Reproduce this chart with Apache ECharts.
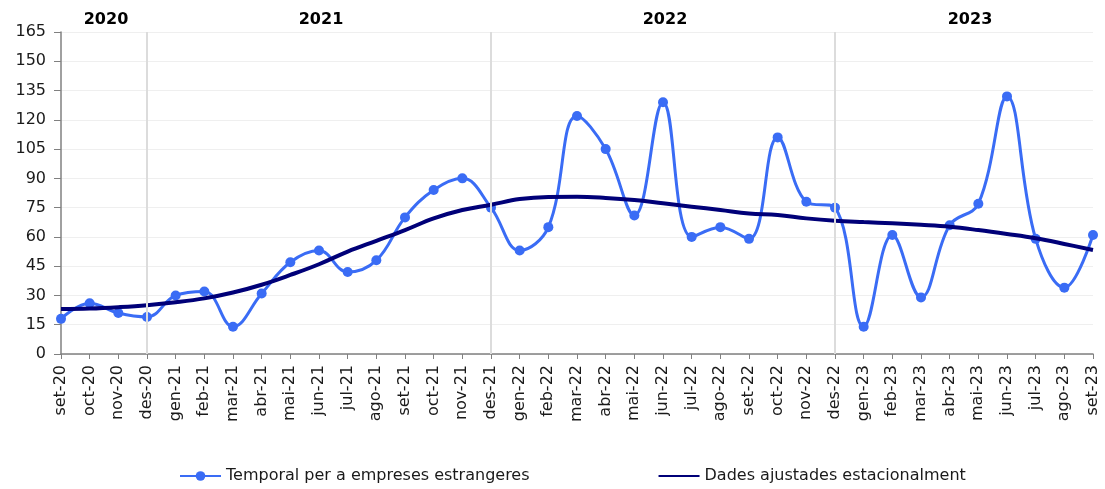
<!DOCTYPE html>
<html lang="ca">
<head>
<meta charset="UTF-8">
<title>Temporal per a empreses estrangeres</title>
<script src="https://cdn.jsdelivr.net/npm/echarts@6/dist/echarts.min.js"></script>
<style>
	html, body { margin: 0; padding: 0; background: #fff; }
	#chart { width: 1105px; height: 489px; }
</style>
</head>
<body>
<div id="chart"></div>
<script>
// categories (mesos)
var months = ['set-20','oct-20','nov-20','des-20',
	'gen-21','feb-21','mar-21','abr-21','mai-21','jun-21','jul-21','ago-21','set-21','oct-21','nov-21','des-21',
	'gen-22','feb-22','mar-22','abr-22','mai-22','jun-22','jul-22','ago-22','set-22','oct-22','nov-22','des-22',
	'gen-23','feb-23','mar-23','abr-23','mai-23','jun-23','jul-23','ago-23','set-23'];

// serie original
var temporal = [18,26,21,19,
	30,32,14,31,47,53,42,48,70,84,90,75,
	53,65,122,105,71,129,60,65,59,111,78,75,
	14,61,29,66,77,132,59,34,61];

// serie ajustada
var ajustades = [23,23.3,24,25,
	26.5,28.5,31.5,35.5,40.5,46,52.5,58,63.5,69.5,73.8,76.5,
	79.4,80.5,80.6,80,78.9,77.2,75.5,73.8,72,71.2,69.5,68.3,
	67.6,67,66.2,65.2,63.5,61.5,59.3,56.4,53.3];

// separadors d'any i etiquetes
var yearBreaks = ['des-20','des-21','des-22'];
var yearLabels = ['2020','2021','2022','2023'];

var FONT = '"DejaVu Sans", Verdana, sans-serif';
var chart = echarts.init(document.getElementById('chart'));

var option = {
	animation: false,
	textStyle: { fontFamily: FONT },
	grid: { left: 61, right: 12, top: 32, bottom: 135 },
	legend: {
		bottom: 0,
		left: 174,
		itemGap: 128,
		itemWidth: 41,
		itemHeight: 12,
		textStyle: { fontSize: 16, color: '#1a1a1a' },
		data: [
			{ name: 'Temporal per a empreses estrangeres' },
			{ name: 'Dades ajustades estacionalment', itemStyle: { opacity: 0 } }
		]
	},
	xAxis: {
		type: 'category',
		data: months,
		boundaryGap: false,
		axisLine: { lineStyle: { color: '#808080', width: 1.5 } },
		axisTick: { show: true, length: 5, lineStyle: { color: '#808080' } },
		axisLabel: { rotate: 90, fontSize: 16, color: '#1a1a1a', margin: 11 },
		splitLine: { show: false }
	},
	yAxis: {
		type: 'value',
		min: 0,
		max: 165,
		interval: 15,
		axisLine: { show: true, lineStyle: { color: '#808080', width: 1.5 } },
		axisTick: { show: true, length: 7, lineStyle: { color: '#808080' } },
		axisLabel: { fontSize: 16, color: '#1a1a1a', margin: 15 },
		splitLine: { lineStyle: { color: '#efefef', width: 1 } }
	},
	series: [
		{
			name: 'Temporal per a empreses estrangeres',
			type: 'line',
			data: temporal,
			smooth: 0.4,
			symbol: 'circle',
			symbolSize: 10,
			lineStyle: { color: '#3a6cf5', width: 3 },
			itemStyle: { color: '#3a6cf5' },
			z: 3,
			markLine: {
				silent: true,
				symbol: 'none',
				label: { show: false },
				lineStyle: { color: '#dcdcdc', width: 2, type: 'solid' },
				data: yearBreaks.map(function (m) { return { xAxis: m }; })
			}
		},
		{
			name: 'Dades ajustades estacionalment',
			type: 'line',
			data: ajustades,
			smooth: 0.4,
			showSymbol: false,
			symbol: 'none',
			lineStyle: { color: '#000078', width: 4 },
			itemStyle: { color: '#000078' },
			z: 4
		}
	]
};

chart.setOption(option);

// etiquetes d'any centrades entre separadors
var edges = [months[0]].concat(yearBreaks).concat([months[months.length - 1]]);
var texts = yearLabels.map(function (y, i) {
	var x0 = chart.convertToPixel({ xAxisIndex: 0 }, edges[i]);
	var x1 = chart.convertToPixel({ xAxisIndex: 0 }, edges[i + 1]);
	return {
		type: 'text',
		x: (x0 + x1) / 2 + (i === 3 ? 6 : 2),
		y: 20,
		style: {
			text: y,
			fill: '#000',
			font: 'bold 16px ' + FONT,
			textAlign: 'center',
			textVerticalAlign: 'middle'
		}
	};
});
chart.setOption({ graphic: texts });
</script>
</body>
</html>
